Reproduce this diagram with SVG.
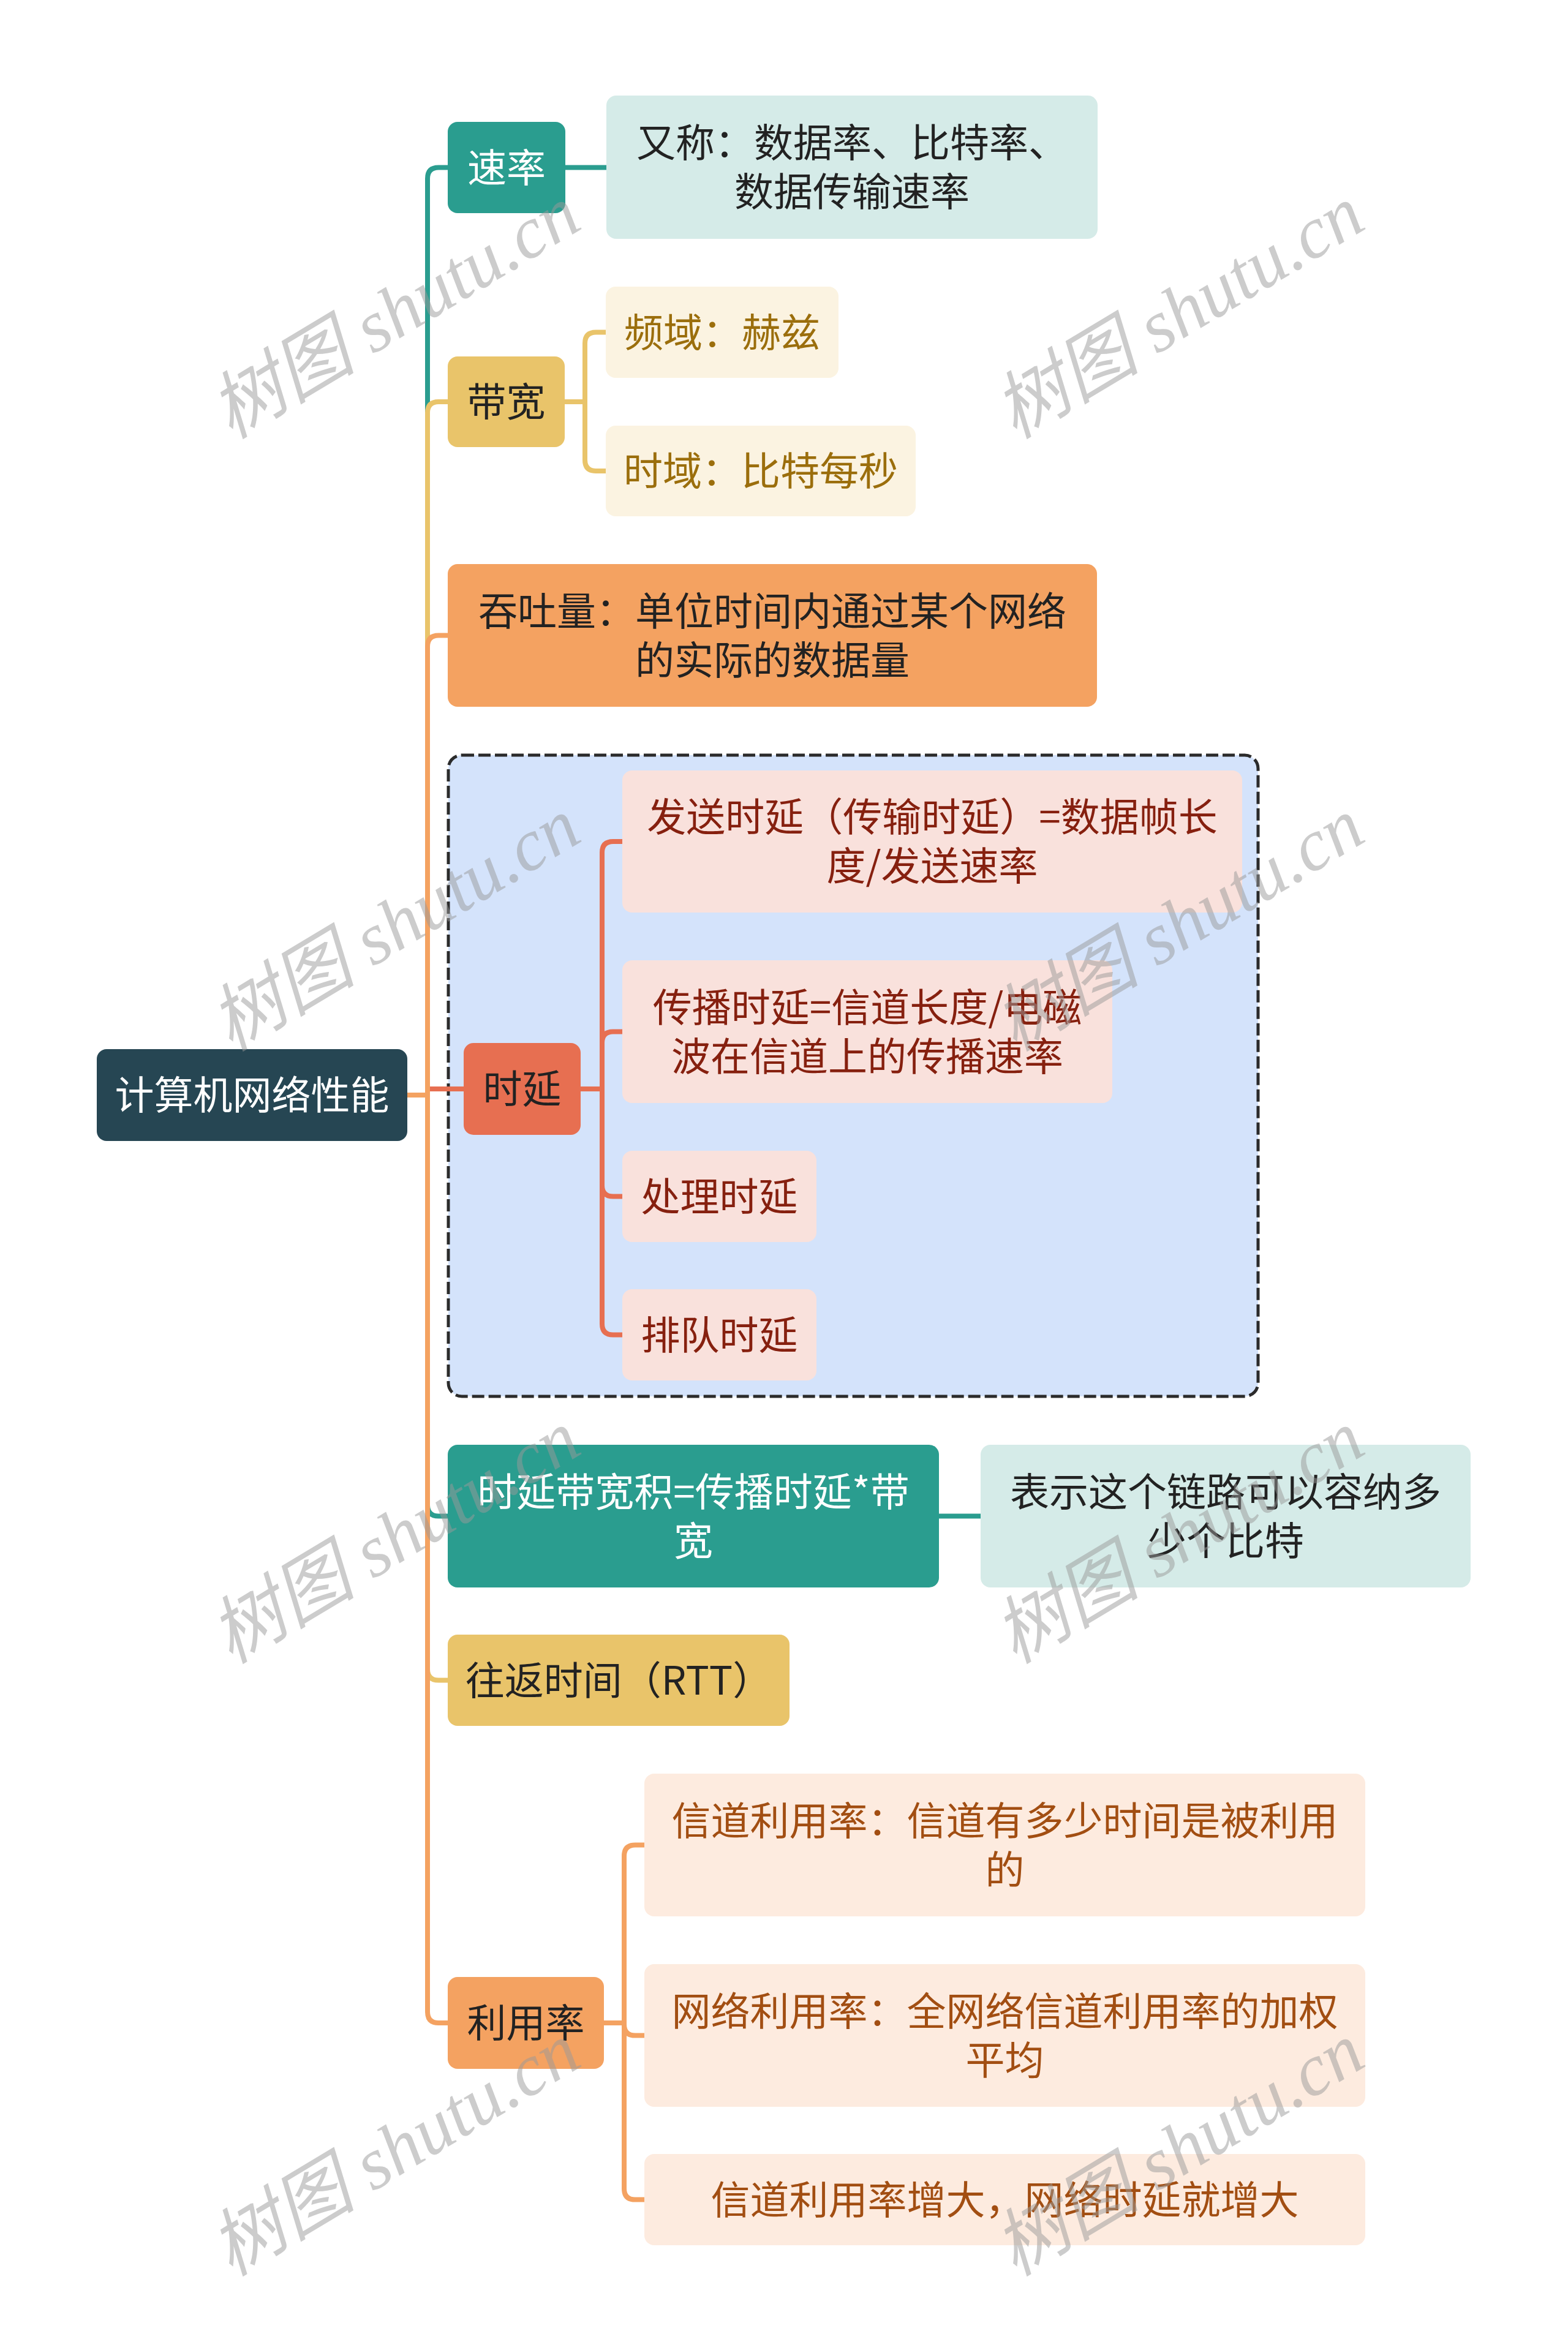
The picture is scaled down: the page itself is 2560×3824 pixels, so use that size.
<svg xmlns="http://www.w3.org/2000/svg" width="2560" height="3824" viewBox="0 0 2560 3824">
<style>
text{font-family:"Noto Sans CJK SC","Noto Sans",sans-serif;font-size:64px;text-anchor:middle}
.lt{fill:#ffffff}
.dk{fill:#222222}
.gd{fill:#9b6e0c}
.rd{fill:#86200f}
.or{fill:#a24e12}
.c{fill:none;stroke-width:8}
.teal{stroke:#2a9d8f}
.yel{stroke:#e9c46a}
.ora{stroke:#f4a261}
.red{stroke:#e76f51}
.wm{font-family:"Liberation Serif","Noto Sans CJK SC",serif;font-style:italic;font-size:120px;fill:#9a9a9a;opacity:0.5}
</style>
<rect width="2560" height="3824" fill="#ffffff"/>
<g id="delay-container">
<rect x="732" y="1233" width="1322" height="1047" rx="22" fill="#d4e3fb" stroke="#2b2b2b" stroke-width="5" stroke-dasharray="20 7"/>
</g>
<g id="connectors">
<path class="c red" d="M665,1788 H698 V1778 H757"/>
<path class="c teal" d="M665,1788 H698 V291.5 Q698,273.5 716,273.5 H731"/>
<path class="c yel" d="M665,1788 H698 V674 Q698,656 716,656 H731"/>
<path class="c ora" d="M665,1788 H698 V1055.5 Q698,1037.5 716,1037.5 H731"/>
<path class="c teal" d="M665,1788 H698 V2457.5 Q698,2475.5 716,2475.5 H731"/>
<path class="c yel" d="M665,1788 H698 V2725.5 Q698,2743.5 716,2743.5 H731"/>
<path class="c ora" d="M665,1788 H698 V3285 Q698,3303 716,3303 H731"/>
<path class="c teal" d="M923,273.5 H990"/>
<path class="c yel" d="M922,656 H955 V560.5 Q955,542.5 973,542.5 H989"/>
<path class="c yel" d="M922,656 H955 V751 Q955,769 973,769 H989"/>
<path class="c red" d="M948,1778 H983 V1392 Q983,1374 1001,1374 H1016"/>
<path class="c red" d="M948,1778 H983 V1702.5 Q983,1684.5 1001,1684.5 H1016"/>
<path class="c red" d="M948,1778 H983 V1935.5 Q983,1953.5 1001,1953.5 H1016"/>
<path class="c red" d="M948,1778 H983 V2161.5 Q983,2179.5 1001,2179.5 H1016"/>
<path class="c teal" d="M1533,2475.5 H1601"/>
<path class="c ora" d="M986,3303 H1019 V3030.5 Q1019,3012.5 1037,3012.5 H1052"/>
<path class="c ora" d="M986,3303 H1019 V3305.5 Q1019,3323.5 1037,3323.5 H1052"/>
<path class="c ora" d="M986,3303 H1019 V3573.5 Q1019,3591.5 1037,3591.5 H1052"/>
</g>
<g id="root"><rect x="158" y="1713" width="507" height="150" rx="16" fill="#264653"/><text class="lt" x="411.5" y="1811">计算机网络性能</text></g>
<g id="rate"><rect x="731" y="199" width="192" height="149" rx="16" fill="#2a9d8f"/><text class="lt" x="827" y="297">速率</text></g>
<g id="rate-alias"><rect x="990" y="156" width="802" height="234" rx="16" fill="#d5ebe8"/><text class="dk" x="1391" y="256">又称：数据率、比特率、<tspan x="1391" dy="80">数据传输速率</tspan></text></g>
<g id="bandwidth"><rect x="731" y="582" width="191" height="148" rx="16" fill="#e9c46a"/><text class="dk" x="826.5" y="679">带宽</text></g>
<g id="freq"><rect x="989" y="468" width="380" height="149" rx="16" fill="#fbf3e1"/><text class="gd" x="1179" y="566">频域：赫兹</text></g>
<g id="time"><rect x="989" y="695" width="506" height="148" rx="16" fill="#fbf3e1"/><text class="gd" x="1242" y="792">时域：比特每秒</text></g>
<g id="throughput"><rect x="731" y="921" width="1060" height="233" rx="16" fill="#f4a261"/><text class="dk" x="1261" y="1021">吞吐量：单位时间内通过某个网络<tspan x="1261" dy="80">的实际的数据量</tspan></text></g>
<g id="delay"><rect x="757" y="1703" width="191" height="150" rx="16" fill="#e76f51"/><text class="dk" x="852.5" y="1801">时延</text></g>
<g id="tx-delay"><rect x="1016" y="1258" width="1012" height="232" rx="16" fill="#f9e1dc"/><text class="rd" x="1522" y="1357">发送时延（传输时延）=数据帧长<tspan x="1522" dy="80">度/发送速率</tspan></text></g>
<g id="prop-delay"><rect x="1016" y="1568" width="800" height="233" rx="16" fill="#f9e1dc"/><text class="rd" x="1416" y="1668">传播时延=信道长度/电磁<tspan x="1416" dy="80">波在信道上的传播速率</tspan></text></g>
<g id="proc-delay"><rect x="1016" y="1879" width="317" height="149" rx="16" fill="#f9e1dc"/><text class="rd" x="1174.5" y="1977">处理时延</text></g>
<g id="queue-delay"><rect x="1016" y="2105" width="317" height="149" rx="16" fill="#f9e1dc"/><text class="rd" x="1174.5" y="2203">排队时延</text></g>
<g id="bdp"><rect x="731" y="2359" width="802" height="233" rx="16" fill="#2a9d8f"/><text class="lt" x="1132" y="2459">时延带宽积=传播时延*带<tspan x="1132" dy="80">宽</tspan></text></g>
<g id="bdp-note"><rect x="1601" y="2359" width="800" height="233" rx="16" fill="#d5ebe8"/><text class="dk" x="2001" y="2459">表示这个链路可以容纳多<tspan x="2001" dy="80">少个比特</tspan></text></g>
<g id="rtt"><rect x="731" y="2669" width="558" height="149" rx="16" fill="#e9c46a"/><text class="dk" x="1010" y="2767">往返时间（RTT）</text></g>
<g id="utilization"><rect x="731" y="3228" width="255" height="150" rx="16" fill="#f4a261"/><text class="dk" x="858.5" y="3326">利用率</text></g>
<g id="channel-util"><rect x="1052" y="2896" width="1177" height="233" rx="16" fill="#fdebdf"/><text class="or" x="1640.5" y="2996">信道利用率：信道有多少时间是被利用<tspan x="1640.5" dy="80">的</tspan></text></g>
<g id="network-util"><rect x="1052" y="3207" width="1177" height="233" rx="16" fill="#fdebdf"/><text class="or" x="1640.5" y="3307">网络利用率：全网络信道利用率的加权<tspan x="1640.5" dy="80">平均</tspan></text></g>
<g id="util-effect"><rect x="1052" y="3517" width="1177" height="149" rx="16" fill="#fdebdf"/><text class="or" x="1640.5" y="3615">信道利用率增大，网络时延就增大</text></g>
<g id="watermarks">
<text class="wm" transform="translate(646,512) rotate(-31)" y="38">树图 shutu.cn</text>
<text class="wm" transform="translate(1926,512) rotate(-31)" y="38">树图 shutu.cn</text>
<text class="wm" transform="translate(646,1512) rotate(-31)" y="38">树图 shutu.cn</text>
<text class="wm" transform="translate(1926,1512) rotate(-31)" y="38">树图 shutu.cn</text>
<text class="wm" transform="translate(646,2512) rotate(-31)" y="38">树图 shutu.cn</text>
<text class="wm" transform="translate(1926,2512) rotate(-31)" y="38">树图 shutu.cn</text>
<text class="wm" transform="translate(646,3512) rotate(-31)" y="38">树图 shutu.cn</text>
<text class="wm" transform="translate(1926,3512) rotate(-31)" y="38">树图 shutu.cn</text>
</g>
</svg>
